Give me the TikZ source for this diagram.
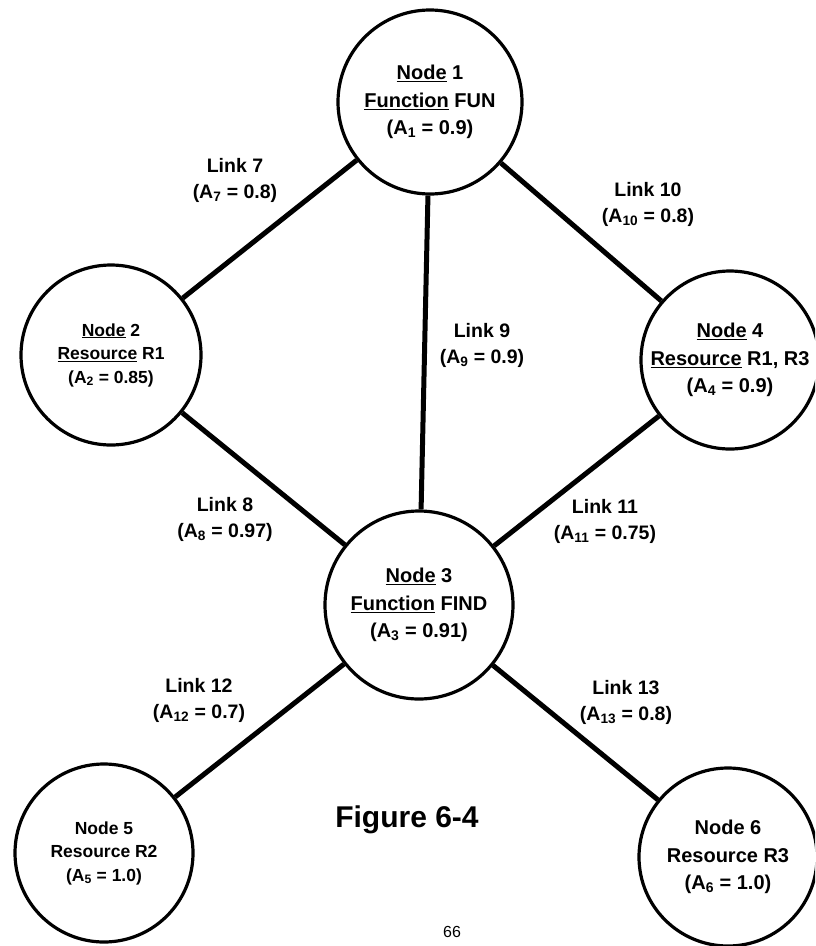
\documentclass[tikz,border=0pt]{standalone}
\usepackage{fontspec}
\setmainfont{Liberation Sans}
\newcommand{\Asub}[1]{A\textsubscript{#1}}
\begin{document}
\begin{tikzpicture}[x=1pt,y=-1pt,
  station/.style={circle, draw, line width=3.2pt, minimum size=#1, inner sep=0pt,
    align=center, font=\bfseries\fontsize{20}{27.5}\selectfont},
  smalltext/.style={font=\bfseries\fontsize{17.5}{23.5}\selectfont},
  link/.style={line width=5pt},
  linklabel/.style={align=center, inner sep=0pt,
    font=\bfseries\fontsize{19.5}{26}\selectfont},
  caption/.style={font=\bfseries\fontsize{30}{36}\selectfont, inner sep=0pt}]
\useasboundingbox (0,0) rectangle (815,946);
\clip (0,0) rectangle (815,946);

% nodes of the network
\node[station=184pt] (n1) at (430,102) {\underline{Node} 1\\\underline{Function} FUN\\(\Asub{1} = 0.9)};
\node[station=180pt, smalltext] (n2) at (111,355) {\underline{Node} 2\\\underline{Resource} R1\\(\Asub{2} = 0.85)};
\node[station=188pt] (n3) at (419,605) {\underline{Node} 3\\\underline{Function} FIND\\(\Asub{3} = 0.91)};
\node[station=178pt] (n4) at (730,360) {\underline{Node} 4\\\underline{Resource} R1, R3\\(\Asub{4} = 0.9)};
\node[station=178pt, smalltext] (n5) at (104,853) {Node 5\\Resource R2\\(\Asub{5} = 1.0)};
\node[station=178pt] (n6) at (728,857) {Node 6\\Resource R3\\(\Asub{6} = 1.0)};

% links
\draw[link] (n1) -- (n2);
\draw[link] (n1) -- (n3);
\draw[link] (n1) -- (n4);
\draw[link] (n2) -- (n3);
\draw[link] (n4) -- (n3);
\draw[link] (n3) -- (n5);
\draw[link] (n3) -- (n6);

% link labels
\node[linklabel] (l7)  at (235,180) {Link 7\\(\Asub{7} = 0.8)};
\node[linklabel] (l10) at (648,204) {Link 10\\(\Asub{10} = 0.8)};
\node[linklabel] (l9)  at (482,345) {Link 9\\(\Asub{9} = 0.9)};
\node[linklabel] (l8)  at (225,519) {Link 8\\(\Asub{8} = 0.97)};
\node[linklabel] (l11) at (605,521) {Link 11\\(\Asub{11} = 0.75)};
\node[linklabel] (l12) at (199,700) {Link 12\\(\Asub{12} = 0.7)};
\node[linklabel] (l13) at (626,702) {Link 13\\(\Asub{13} = 0.8)};

% caption and page number
\node[caption] (fig) at (407,820) {Figure 6-4};
\node[anchor=north west, inner sep=0pt, font=\fontsize{16}{19}\selectfont] (page) at (443,926) {66};
\end{tikzpicture}
\end{document}
